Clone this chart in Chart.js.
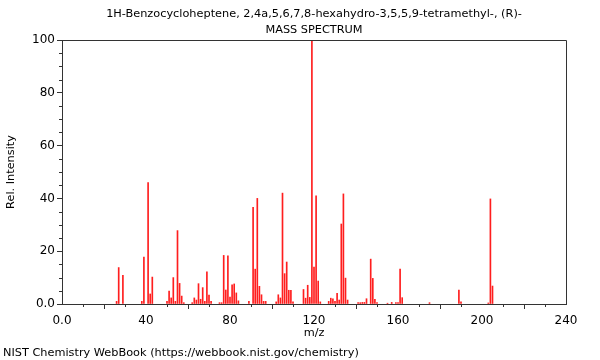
<!DOCTYPE html>
<html>
<head>
<meta charset="UTF-8">
<title>Mass Spectrum</title>
<script src="https://cdn.jsdelivr.net/npm/chart.js"></script>
<style>
    body { margin: 0; background: #fff; }
    #wrap { width: 600px; height: 360px; }
</style>
</head>
<body>
<div id="wrap"><canvas id="msChart" width="600" height="360"></canvas></div>
<script>
// chart text
var titleLines = ['1H-Benzocycloheptene, 2,4a,5,6,7,8-hexahydro-3,5,5,9-tetramethyl-, (R)-', 'MASS SPECTRUM'];
var footerText = 'NIST Chemistry WebBook (https://webbook.nist.gov/chemistry)';
var xTitle = 'm/z';
var yTitle = 'Rel. Intensity';

// peaks
var mz = [26, 27, 29, 38, 39, 41, 42, 43, 50, 51, 52, 53, 54, 55, 56, 57, 58,
    62, 63, 64, 65, 66, 67, 68, 69, 70, 71, 75, 76, 77, 78, 79, 80, 81, 82, 83, 84,
    89, 91, 92, 93, 94, 95, 96, 97, 102, 103, 104, 105, 106, 107, 108, 109, 110,
    115, 116, 117, 118, 119, 120, 121, 122, 123, 127, 128, 129, 130, 131, 132, 133, 134, 135, 136,
    141, 142, 143, 144, 145, 147, 148, 149, 150, 155, 157, 159, 160, 161, 162,
    175, 189, 190, 203, 204, 205];
var intensity = [1, 13.8, 10.9, 1, 17.8, 46, 3.8, 10.2, 1, 4.9, 2.3, 10, 1, 27.8, 7.8, 3.0, 0.5,
    0.5, 2.3, 1.5, 7.7, 1.8, 6.2, 1, 12.2, 3.4, 1, 0.5, 0.5, 18.4, 5.3, 18.2, 2.6, 7.3, 7.6, 4.2, 1.2,
    1, 36.6, 13.2, 40, 6.7, 3.5, 1, 1, 0.8, 3.5, 2.3, 42, 11.5, 15.9, 5.2, 5.2, 0.8,
    5.5, 2.2, 7.1, 2.5, 100, 14, 41, 8.7, 0.8, 1, 2.2, 2, 1, 4, 1.5, 30.3, 41.7, 9.8, 1.5,
    0.5, 0.5, 0.6, 0.6, 2, 17, 9.7, 1.8, 0.5, 0.3, 0.6, 0.5, 0.5, 13.2, 2.4,
    0.5, 5.3, 0.8, 0.4, 39.8, 6.8];

// axis ranges
var xMin = 0, xMax = 240, xMajor = 40, xMinor = 10;
var yMin = 0, yMax = 100, yMajor = 20, yMinor = 5;

var points = mz.map(function (m, i) { return { x: m, y: intensity[i] }; });

var axisColor = '#333';
var fontFamily = '"DejaVu Sans", sans-serif';

// frame, minor ticks, title and footer
var extrasPlugin = {
    id: 'extras',
    afterDraw: function (chart) {
        var ctx = chart.ctx;
        var a = chart.chartArea;
        var xs = chart.scales.x, ys = chart.scales.y;
        ctx.save();
        ctx.strokeStyle = axisColor;
        ctx.lineWidth = 1;
        ctx.beginPath();
        ctx.moveTo(a.left, a.top + 0.5);
        ctx.lineTo(a.right + 0.5, a.top + 0.5);
        ctx.lineTo(a.right + 0.5, a.bottom);
        ctx.stroke();

        ctx.beginPath();
        for (var v = xMin; v <= xMax; v += xMinor) {
            if (v % xMajor === 0) continue;
            var px = Math.round(xs.getPixelForValue(v)) + 0.5;
            ctx.moveTo(px, a.bottom);
            ctx.lineTo(px, a.bottom + 3);
        }
        for (var w = yMin; w <= yMax; w += yMinor) {
            if (w % yMajor === 0) continue;
            var py = Math.round(ys.getPixelForValue(w)) + 0.5;
            ctx.moveTo(a.left, py);
            ctx.lineTo(a.left - 3, py);
        }
        ctx.stroke();

        ctx.fillStyle = '#000';
        ctx.font = '11.3px ' + fontFamily;
        ctx.textAlign = 'center';
        ctx.textBaseline = 'middle';
        var cx = (a.left + a.right) / 2;
        ctx.fillText(titleLines[0], cx, 14);
        ctx.fillText(titleLines[1], cx, 30);
        ctx.textAlign = 'left';
        ctx.fillText(footerText, 3, 353);
        ctx.restore();
    }
};

var ctx = document.getElementById('msChart').getContext('2d');
var msChart = new Chart(ctx, {
    type: 'bar',
    data: {
        datasets: [{
            data: points,
            backgroundColor: 'rgb(255,30,30)',
            borderWidth: 0,
            barThickness: 1,
            grouped: false
        }]
    },
    options: {
        responsive: false,
        animation: false,
        layout: { padding: { top: 40, right: 34, bottom: 20, left: 0 } },
        plugins: {
            legend: { display: false },
            tooltip: { enabled: false },
            title: { display: false }
        },
        scales: {
            x: {
                type: 'linear',
                min: xMin,
                max: xMax,
                offset: false,
                afterFit: function (scale) { scale.height = 36; },
                grid: { drawOnChartArea: false, tickLength: 5, color: axisColor },
                border: { color: axisColor },
                ticks: {
                    stepSize: xMajor,
                    color: '#000',
                    padding: 5,
                    maxRotation: 0,
                    font: { family: fontFamily, size: 12 },
                    callback: function (v) { return v === 0 ? '0.0' : v; }
                },
                title: {
                    display: true,
                    text: xTitle,
                    color: '#000',
                    padding: { top: 0, bottom: 0 },
                    font: { family: fontFamily, size: 11.3 }
                }
            },
            y: {
                min: yMin,
                max: yMax,
                afterFit: function (scale) { scale.width = 62; },
                grid: { drawOnChartArea: false, tickLength: 5, color: axisColor },
                border: { color: axisColor },
                ticks: {
                    stepSize: yMajor,
                    color: '#000',
                    padding: 2,
                    font: { family: fontFamily, size: 12 },
                    callback: function (v) { return v === 0 ? '0.0' : v; }
                },
                title: {
                    display: true,
                    text: yTitle,
                    color: '#000',
                    padding: { top: 4, bottom: 0 },
                    font: { family: fontFamily, size: 11.3 }
                }
            }
        }
    },
    plugins: [extrasPlugin]
});
</script>
</body>
</html>
